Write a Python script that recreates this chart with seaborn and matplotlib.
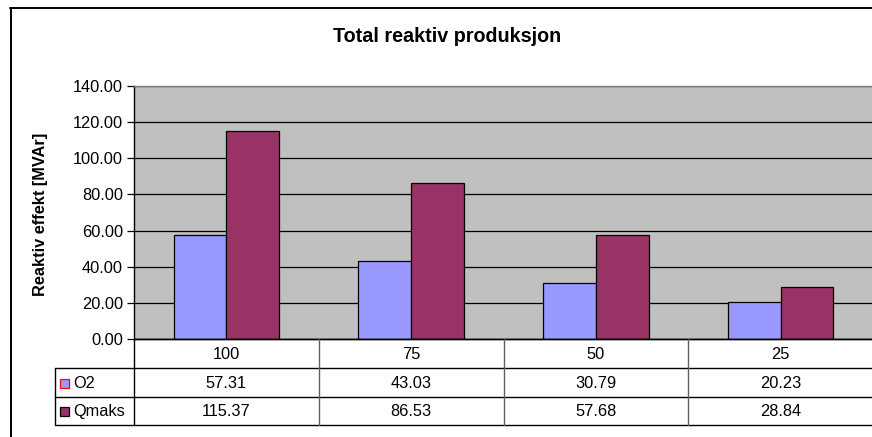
import matplotlib
matplotlib.use("Agg")
import matplotlib.pyplot as plt
import seaborn as sns
import pandas as pd
from matplotlib.patches import Rectangle

# Load levels (%) and the two reactive power series [MVAr]
categories = ["100", "75", "50", "25"]
series_names = ["O2", "Qmaks"]
o2_values = [57.31, 43.03, 30.79, 20.23]
qmaks_values = [115.37, 86.53, 57.68, 28.84]
y_ticks = [0, 20, 40, 60, 80, 100, 120, 140]

colors = {"O2": "#9999FF", "Qmaks": "#993366"}
key_edges = {"O2": "#FF0000", "Qmaks": "#000000"}

df = pd.DataFrame({
    "category": categories * 2,
    "series": ["O2"] * len(categories) + ["Qmaks"] * len(categories),
    "value": o2_values + qmaks_values,
})
series_values = {"O2": o2_values, "Qmaks": qmaks_values}

sns.set_theme(style="white")
plt.rcParams["font.family"] = ["Liberation Sans", "DejaVu Sans"]

W, H = 872, 437
fig = plt.figure(figsize=(W / 100, H / 100), dpi=100)
fig.patch.set_facecolor("white")

# plot area in pixel units -> figure fraction
px_left, px_right, px_top, px_bottom = 134, 873, 86, 339
ax = fig.add_axes([px_left / W, 1 - px_bottom / H,
                   (px_right - px_left) / W, (px_bottom - px_top) / H])

sns.barplot(data=df, x="category", y="value", hue="series", order=categories,
            hue_order=series_names, palette=colors, width=0.572,
            edgecolor="#000000", linewidth=0.9, saturation=1, ax=ax,
            legend=False, errorbar=None)

ax.set_facecolor("#C0C0C0")
ax.set_xlim(-0.5, len(categories) - 0.5)
ax.set_ylim(0, 140)
ax.set_yticks(y_ticks)
ax.set_yticklabels([f"{t:.2f}" for t in y_ticks], fontsize=11.8, color="#000000")
ax.set_xticks([])
ax.set_xlabel("")
ax.set_ylabel("")
ax.yaxis.grid(True, color="#000000", linewidth=0.9)
ax.set_axisbelow(True)
ax.tick_params(axis="y", direction="out", length=5, width=0.9, color="#000000",
               left=True, pad=3)
ax.spines["left"].set_color("#000000")
ax.spines["left"].set_linewidth(1.0)
ax.spines["bottom"].set_color("#000000")
ax.spines["bottom"].set_linewidth(1.0)
ax.spines["top"].set_color("#808080")
ax.spines["top"].set_linewidth(1.0)
ax.spines["right"].set_visible(False)

# overlay axes in pixel coordinates for title, frame and data table
ov = fig.add_axes([0, 0, 1, 1], facecolor="none")
ov.set_xlim(0, W)
ov.set_ylim(H, 0)
ov.axis("off")

# chart frame
ov.plot([10, W + 5], [8, 8], color="#000000", lw=1.4)
ov.plot([10.5, 10.5], [8, H + 5], color="#000000", lw=1.4)

ov.text(447, 36, "Total reaktiv produksjon", ha="center", va="center",
        fontsize=14.2, fontweight="bold", color="#000000")
ov.text(40, 214, "Reaktiv effekt [MVAr]", ha="center", va="center",
        rotation=90, fontsize=11.8, fontweight="bold", color="#000000")

# column centers / boundaries from the bar axis scale
fig.canvas.draw()
inv = fig.transFigure.inverted()


def data_x_to_px(x):
    disp = ax.transData.transform((x, 0))
    return inv.transform(disp)[0] * W


centers = [data_x_to_px(i) for i in range(len(categories))]
bounds = [data_x_to_px(i - 0.5) for i in range(len(categories) + 1)]

row_lines = [339, 368, 397, 424.5]
legend_left = 55

# horizontal rules
ov.plot([px_left, W + 5], [row_lines[0], row_lines[0]], color="#000000", lw=1.0)
for y in row_lines[1:]:
    ov.plot([legend_left, W + 5], [y, y], color="#000000", lw=1.0)
# vertical rules
ov.plot([px_left - 0.5, px_left - 0.5], [row_lines[0], row_lines[-1]],
        color="#000000", lw=1.0)
ov.plot([legend_left, legend_left], [row_lines[1], row_lines[-1]],
        color="#000000", lw=1.0)
for b in bounds[1:-1]:
    ov.plot([b, b], [row_lines[0], row_lines[-1]], color="#606060", lw=1.0)

# category row
for c, cat in zip(centers, categories):
    ov.text(c, (row_lines[0] + row_lines[1]) / 2 + 1, cat, ha="center",
            va="center", fontsize=11.8, color="#000000")

# series rows with legend keys
for r, name in enumerate(series_names):
    y0, y1 = row_lines[r + 1], row_lines[r + 2]
    ym = (y0 + y1) / 2 + 1
    ov.add_patch(Rectangle((60, ym - 4.5), 9, 9, facecolor=colors[name],
                           edgecolor=key_edges[name], lw=0.9))
    ov.text(73, ym, name, ha="left", va="center", fontsize=11.8, color="#000000")
    for c, v in zip(centers, series_values[name]):
        ov.text(c, ym, f"{v:.2f}", ha="center", va="center", fontsize=11.8,
                color="#000000")

fig.savefig("out.png", dpi=100)
